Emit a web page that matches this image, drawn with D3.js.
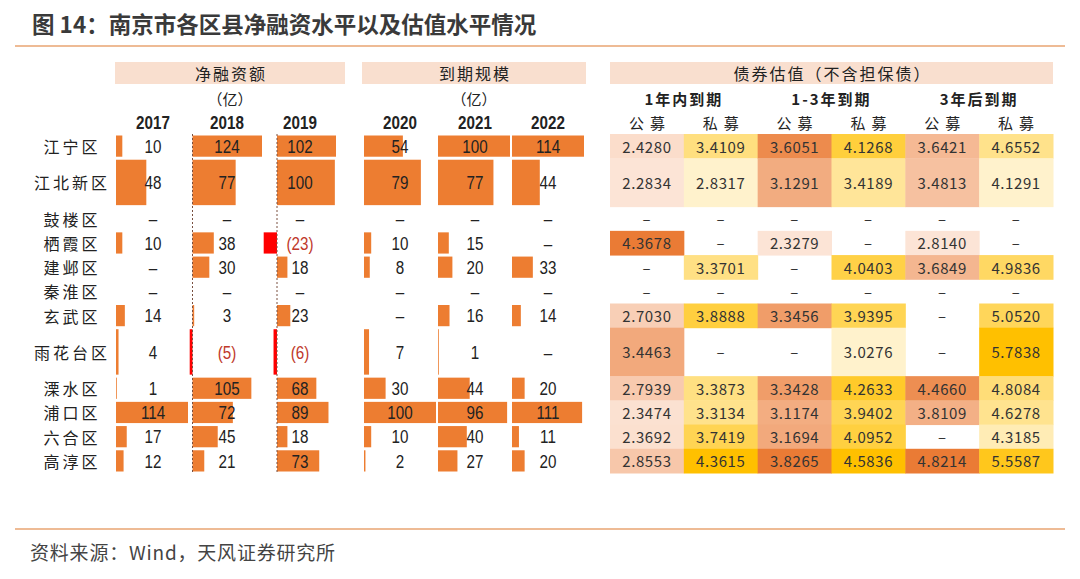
<!doctype html>
<html>
<head>
<meta charset="utf-8">
<title>南京市各区县净融资水平以及估值水平情况</title>
<script src="https://cdn.jsdelivr.net/npm/d3@7"></script>
<style>
  body { margin:0; background:#fff; }
  svg { display:block; }
  text { font-family:"Noto Sans CJK SC", sans-serif; fill:#222; }
  .title { font-size:22.5px; font-weight:bold; fill:#3a3a3a; }
  .src { font-size:19px; letter-spacing:.8px; fill:#444; }
  .band { font-size:16px; letter-spacing:2px; }
  .unit { font-size:15px; }
  .year { font-family:"Liberation Sans", sans-serif; font-weight:bold; font-size:19px; }
  .val { font-family:"Liberation Sans", sans-serif; font-size:19px; }
  .neg { fill:#c0392b; }
  .rowname { font-size:16px; letter-spacing:3px; }
  .grp { font-size:15px; font-weight:bold; letter-spacing:2px; }
  .kind { font-size:15px; letter-spacing:6px; }
  .heat { font-size:15px; letter-spacing:.6px; fill:#333; }
</style>
</head>
<body>
<svg id="chart" width="1080" height="579"></svg>
<script>

// 区县
var districts = ['江宁区','江北新区','鼓楼区','栖霞区','建邺区','秦淮区','玄武区','雨花台区','溧水区','浦口区','六合区','高淳区']
var tallRows = ['江北新区','雨花台区']

// 净融资额 / 到期规模 (亿), null = "–"
var barYears = ['2017','2018','2019','2020','2021','2022']
var net2017 = [10, 48, null, 10, null, null, 14, 4, 1, 114, 17, 12]
var net2018 = [124, 77, null, 38, 30, null, 3, -5, 105, 72, 45, 21]
var net2019 = [102, 100, null, -23, 18, null, 23, -6, 68, 89, 18, 73]
var due2020 = [54, 79, null, 10, 8, null, null, 7, 30, 100, 10, 2]
var due2021 = [100, 77, null, 15, 20, null, 16, 1, 44, 96, 40, 27]
var due2022 = [114, 44, null, null, 33, null, 14, null, 20, 111, 11, 20]

// 债券估值（不含担保债）
var termGroups = ['1年内到期','1-3年到期','3年后到期']
var kinds = ['公募','私募']
var pub1 = [2.4280, 2.2834, null, 4.3678, null, null, 2.7030, 3.4463, 2.7939, 2.3474, 2.3692, 2.8553]
var pri1 = [3.4109, 2.8317, null, null, 3.3701, null, 3.8888, null, 3.3873, 3.3134, 3.7419, 4.3615]
var pub2 = [3.6051, 3.1291, null, 2.3279, null, null, 3.3456, null, 3.3428, 3.1174, 3.1694, 3.8265]
var pri2 = [4.1268, 3.4189, null, null, 4.0403, null, 3.9395, 3.0276, 4.2633, 3.9402, 4.0952, 4.5836]
var pub3 = [3.6421, 3.4813, null, 2.8140, 3.6849, null, null, null, 4.4660, 3.8109, null, 4.8214]
var pri3 = [4.6552, 4.1291, null, null, 4.9836, null, 5.0520, 5.7838, 4.8084, 4.6278, 4.3185, 5.5587]

var barSeries = [net2017, net2018, net2019, due2020, due2021, due2022]
var heatSeries = [pub1, pri1, pub2, pri2, pub3, pri3]

// 版式
var barAxisX = [116, 192.5, 277, 364, 438, 512]
var barMaxW  = [72, 69.5, 59, 72, 72, 72]
var barTextX = [153, 227, 300, 400, 475, 548]
var narrow = 0.8   // 数字字体横向压缩

var svg = d3.select('#chart')

// 标题
svg.append('text').attr('class','title')
   .attr('x', 32).attr('y', 23).attr('dominant-baseline','central')
   .text('图 14：南京市各区县净融资水平以及估值水平情况')
svg.append('line').attr('x1',15).attr('x2',1065).attr('y1',46).attr('y2',46)
   .attr('stroke','#e8a472').attr('stroke-width',1.5)

// 行位置
var units = districts.map(function(d){ return tallRows.indexOf(d) >= 0 ? 2 : 1 })
var cum = [0]
units.forEach(function(u,i){ cum.push(cum[i] + u) })
var yScale = d3.scaleLinear().domain([0, cum[cum.length-1]]).range([134, 473])
var rowTop = function(i){ return yScale(cum[i]) }
var rowBot = function(i){ return yScale(cum[i+1]) }
var rowMid = function(i){ return (rowTop(i) + rowBot(i)) / 2 }

// 表头底色
var bands = [
  {label:'净融资额', x0:115, x1:345},
  {label:'到期规模', x0:362, x1:586},
  {label:'债券估值（不含担保债）', x0:610, x1:1053}
]
svg.selectAll('rect.band').data(bands).enter().append('rect')
   .attr('x', function(d){ return d.x0 }).attr('y', 62)
   .attr('width', function(d){ return d.x1 - d.x0 }).attr('height', 22)
   .attr('fill', '#f9dfcf')
svg.selectAll('text.band').data(bands).enter().append('text')
   .attr('class','band').attr('text-anchor','middle').attr('dominant-baseline','central')
   .attr('x', function(d){ return (d.x0 + d.x1)/2 + 1 }).attr('y', 73)
   .text(function(d){ return d.label })
svg.selectAll('text.unit').data(bands.slice(0,2)).enter().append('text')
   .attr('class','unit').attr('text-anchor','middle').attr('dominant-baseline','central')
   .attr('x', function(d){ return (d.x0 + d.x1)/2 }).attr('y', 98)
   .text('（亿）')

// 年份
svg.selectAll('text.year').data(barYears).enter().append('text')
   .attr('class','year').attr('text-anchor','middle').attr('dominant-baseline','central')
   .attr('transform', function(d,i){ return 'translate(' + barTextX[i] + ',122) scale(' + narrow + ',1)' })
   .text(function(d){ return d })

// 区县名
svg.selectAll('text.rowname').data(districts).enter().append('text')
   .attr('class','rowname').attr('text-anchor','middle').attr('dominant-baseline','central')
   .attr('x', 72).attr('y', function(d,i){ return rowMid(i) })
   .text(function(d){ return d })

// 数据条
barSeries.forEach(function(series, c){
  var maxV = d3.max(series)
  var x = d3.scaleLinear().domain([0, maxV]).range([barAxisX[c], barAxisX[c] + barMaxW[c]])
  var g = svg.append('g')
  var cells = series.map(function(v,i){ return {v:v, i:i} })

  g.selectAll('rect').data(cells.filter(function(d){ return d.v != null })).enter().append('rect')
   .attr('x', function(d){ return Math.min(x(0), x(d.v)) })
   .attr('width', function(d){ return Math.max(0.8, Math.abs(x(d.v) - x(0))) })
   .attr('y', function(d){ return rowTop(d.i) + 1.5 })
   .attr('height', function(d){ return rowBot(d.i) - rowTop(d.i) - 3 })
   .attr('fill', function(d){ return d.v < 0 ? '#ff0000' : '#ed7d31' })

  if (d3.min(series) < 0) {
    g.append('line').attr('x1', x(0)).attr('x2', x(0))
     .attr('y1', rowTop(0)).attr('y2', rowBot(districts.length-1))
     .attr('stroke', '#7a5040').attr('stroke-width', 1).attr('stroke-dasharray', '2,2')
  }

  g.selectAll('text').data(cells).enter().append('text')
   .attr('class', function(d){ return d.v != null && d.v < 0 ? 'val neg' : 'val' })
   .attr('text-anchor','middle').attr('dominant-baseline','central')
   .attr('transform', function(d){ return 'translate(' + barTextX[c] + ',' + rowMid(d.i) + ') scale(' + narrow + ',1)' })
   .text(function(d){
     if (d.v == null) return '–'
     return d.v < 0 ? '(' + (-d.v) + ')' : d.v
   })
})

// 估值热力表
var heatKeys = d3.range(heatSeries.length)
var hx = d3.scaleBand().domain(heatKeys).range([610, 1053]).padding(0)
var fmt = d3.format('.4f')

termGroups.forEach(function(t, k){
  svg.append('text').attr('class','grp').attr('text-anchor','middle').attr('dominant-baseline','central')
     .attr('x', hx(k*2) + hx.bandwidth()).attr('y', 98).text(t)
})
heatKeys.forEach(function(c){
  svg.append('text').attr('class','kind').attr('text-anchor','middle').attr('dominant-baseline','central')
     .attr('x', hx(c) + hx.bandwidth()/2 + 3).attr('y', 122).text(kinds[c % 2])
})

heatSeries.forEach(function(series, c){
  var ext = d3.extent(series)
  var color = d3.scaleLinear().domain(ext)
                .range(c % 2 == 0 ? ['#fce4d6','#ea7b35'] : ['#fff2cc','#ffc000'])
                .interpolate(d3.interpolateRgb)
  var cells = series.map(function(v,i){ return {v:v, i:i} })
  var g = svg.append('g')
  g.selectAll('rect').data(cells.filter(function(d){ return d.v != null })).enter().append('rect')
   .attr('x', hx(c)).attr('width', hx.bandwidth() + 0.5)
   .attr('y', function(d){ return rowTop(d.i) })
   .attr('height', function(d){ return rowBot(d.i) - rowTop(d.i) + 0.5 })
   .attr('fill', function(d){ return color(d.v) })
  g.selectAll('text').data(cells).enter().append('text')
   .attr('class','heat').attr('text-anchor','middle').attr('dominant-baseline','central')
   .attr('x', hx(c) + hx.bandwidth()/2).attr('y', function(d){ return rowMid(d.i) })
   .text(function(d){ return d.v == null ? '–' : fmt(d.v) })
})

// 来源
svg.append('line').attr('x1',15).attr('x2',1065).attr('y1',529).attr('y2',529)
   .attr('stroke','#e8a472').attr('stroke-width',1.5)
svg.append('text').attr('class','src')
   .attr('x', 30).attr('y', 551).attr('dominant-baseline','central')
   .text('资料来源：Wind，天风证券研究所')

</script>
</body>
</html>
